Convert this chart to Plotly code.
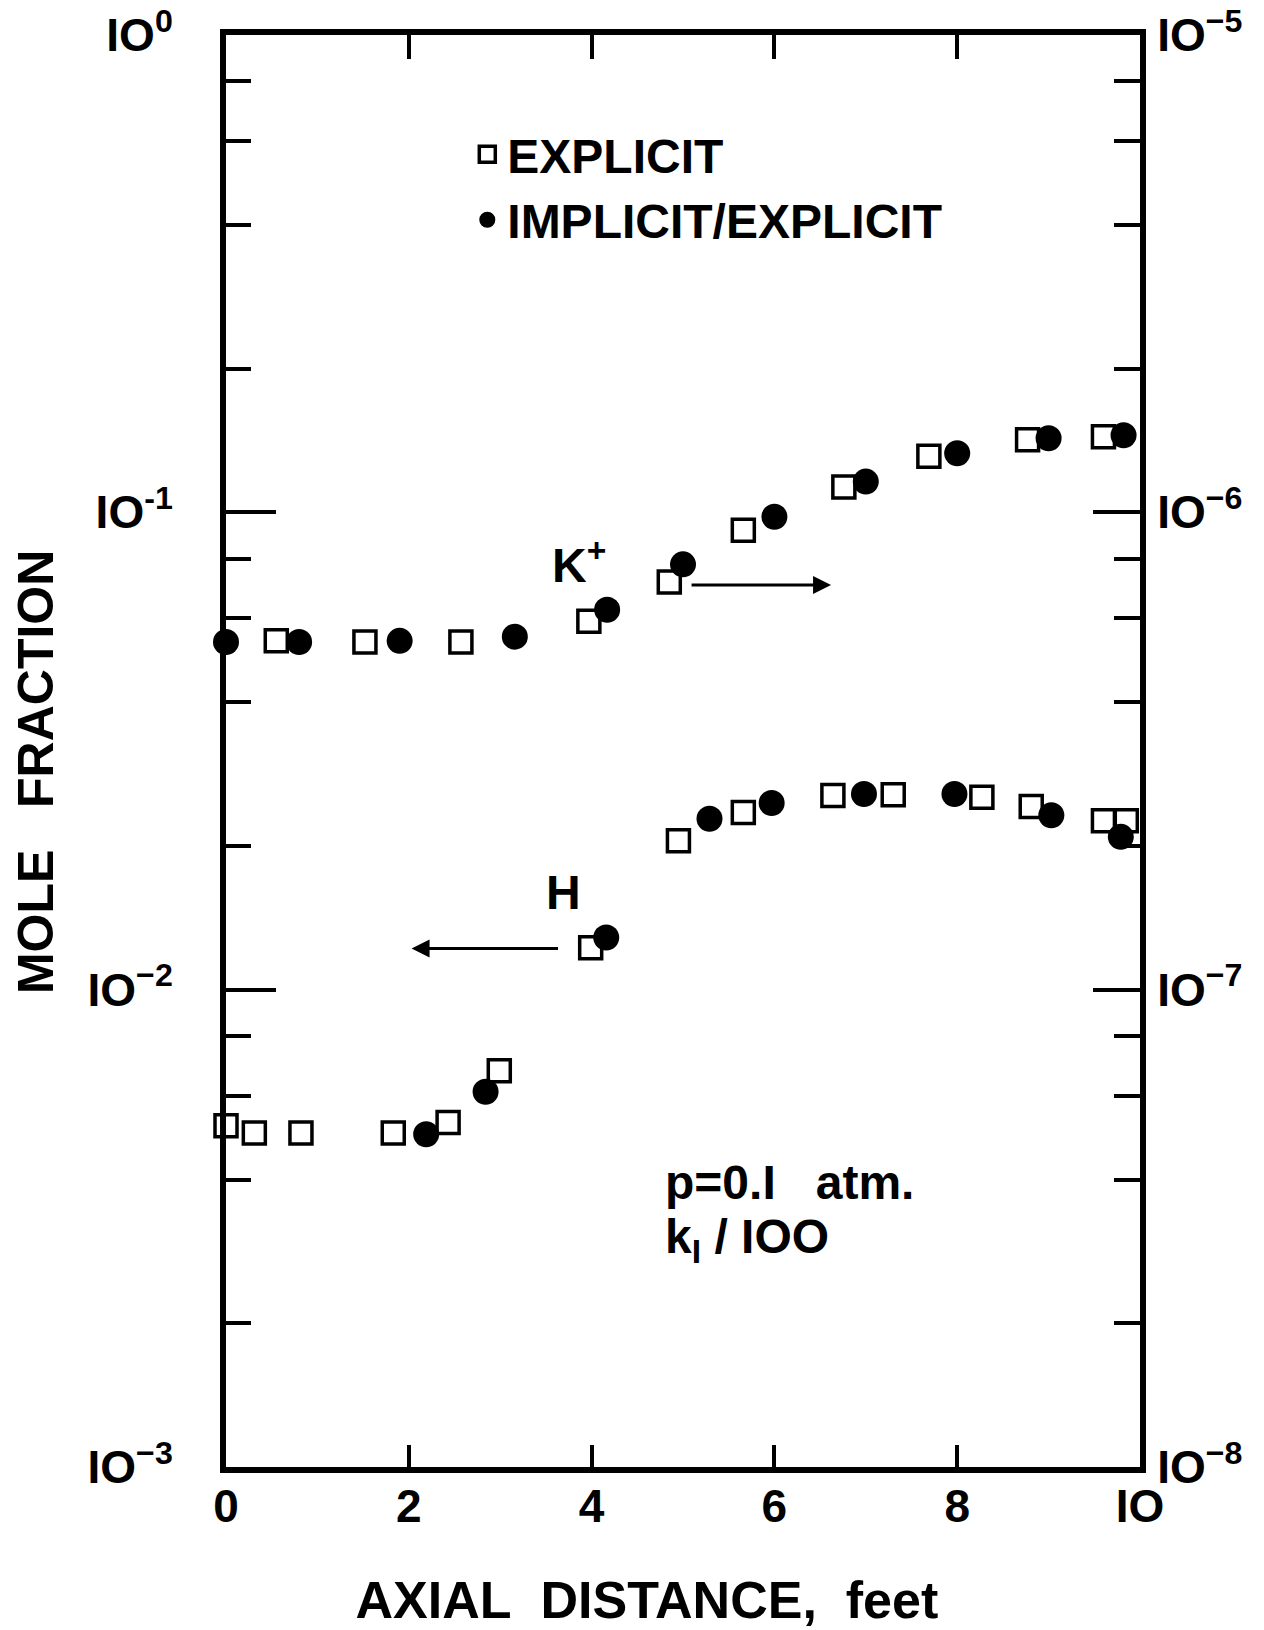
import plotly.graph_objects as go

# ---- data ----
# K+ (right axis, mole fraction)
kp_explicit_x = [0.55, 1.52, 2.57, 3.97, 4.85, 5.66, 6.76, 7.69, 8.77, 9.6]
kp_explicit_y = [5.38e-7, 5.35e-7, 5.35e-7, 5.91e-7, 7.15e-7, 9.17e-7, 1.13e-6, 1.31e-6, 1.42e-6, 1.44e-6]
kp_implicit_x = [0.0, 0.8, 1.9, 3.16, 4.17, 5.0, 6.0, 7.0, 8.0, 9.0, 9.82]
kp_implicit_y = [5.35e-7, 5.35e-7, 5.38e-7, 5.49e-7, 6.25e-7, 7.78e-7, 9.79e-7, 1.16e-6, 1.33e-6, 1.43e-6, 1.45e-6]

# H (left axis, mole fraction)
h_explicit_x = [0.0, 0.31, 0.82, 1.83, 2.43, 2.99, 3.99, 4.95, 5.66, 6.64, 7.3, 8.27, 8.81, 9.6, 9.85]
h_explicit_y = [5.19e-3, 5.01e-3, 5.01e-3, 5.01e-3, 5.27e-3, 6.76e-3, 1.224e-2, 2.05e-2, 2.35e-2,
                2.55e-2, 2.56e-2, 2.53e-2, 2.42e-2, 2.26e-2, 2.26e-2]
h_implicit_x = [2.19, 2.84, 4.16, 5.29, 5.97, 6.98, 7.97, 9.03, 9.79]
h_implicit_y = [4.98e-3, 6.11e-3, 1.286e-2, 2.28e-2, 2.46e-2, 2.57e-2, 2.57e-2, 2.32e-2, 2.09e-2]

x_ticks = [0, 2, 4, 6, 8, 10]
x_ticktext = ["0", "2", "4", "6", "8", "IO"]
left_ticks = [1e-3, 1e-2, 1e-1, 1e0]
left_ticktext = ["IO<sup>−3</sup>", "IO<sup>−2</sup>", "IO<sup>-1</sup>", "IO<sup>0</sup>"]
right_ticks = [1e-8, 1e-7, 1e-6, 1e-5]
right_ticktext = ["IO<sup>−8</sup>", "IO<sup>−7</sup>", "IO<sup>−6</sup>", "IO<sup>−5</sup>"]
minor_mult = [2, 4, 6, 8]

FONT = "Liberation Sans"
NB = "&nbsp;"

sq = dict(symbol="square-open", size=22, color="black", line=dict(width=3.5, color="black"))
ci = dict(symbol="circle", size=26, color="black", line=dict(width=0))

fig = go.Figure()
fig.add_trace(go.Scatter(x=h_explicit_x, y=h_explicit_y, mode="markers", marker=sq,
                         name="EXPLICIT", legendgroup="e", cliponaxis=False, xaxis="x", yaxis="y"))
fig.add_trace(go.Scatter(x=h_implicit_x, y=h_implicit_y, mode="markers", marker=ci,
                         name="IMPLICIT/EXPLICIT", legendgroup="i", cliponaxis=False, xaxis="x", yaxis="y"))
fig.add_trace(go.Scatter(x=kp_explicit_x, y=kp_explicit_y, mode="markers", marker=sq,
                         name="EXPLICIT", legendgroup="e", showlegend=False, cliponaxis=False,
                         xaxis="x2", yaxis="y2"))
fig.add_trace(go.Scatter(x=kp_implicit_x, y=kp_implicit_y, mode="markers", marker=ci,
                         name="IMPLICIT/EXPLICIT", legendgroup="i", showlegend=False, cliponaxis=False,
                         xaxis="x2", yaxis="y2"))

left_minor = [m * 10 ** e for e in (-3, -2, -1) for m in minor_mult]
right_minor = [m * 10 ** e for e in (-8, -7, -6) for m in minor_mult]

axis_common = dict(showgrid=False, zeroline=False, showline=True, linewidth=6, linecolor="black",
                   tickcolor="black")
tickfont = dict(size=46, family=FONT, weight="bold", color="black")

fig.update_layout(
    width=1264, height=1630,
    margin=dict(l=226, r=124, t=35, b=163),
    paper_bgcolor="white", plot_bgcolor="white",
    font=dict(family=FONT, color="black"),
    xaxis=dict(range=[0, 10], tickmode="array", tickvals=x_ticks, ticktext=x_ticktext,
               ticks="inside", ticklen=22, tickwidth=4, tickfont=tickfont, ticklabelstandoff=-6,
               title=dict(text="AXIAL" + NB * 2 + "DISTANCE," + NB * 2 + "feet" + NB * 5,
                          font=dict(size=52, family=FONT, weight="bold"), standoff=52),
               automargin=False, **axis_common),
    xaxis2=dict(range=[0, 10], overlaying="x", side="top", anchor="y2", matches="x",
                tickmode="array", tickvals=[2, 4, 6, 8], ticks="inside", ticklen=24, tickwidth=4,
                showticklabels=False, **axis_common),
    yaxis=dict(type="log", range=[-3, 0], tickmode="array", tickvals=left_ticks, ticktext=left_ticktext,
               ticks="inside", ticklen=50, tickwidth=4, tickfont=tickfont, ticklabelstandoff=38,
               minor=dict(tickmode="array", tickvals=left_minor, ticks="inside", ticklen=25,
                          tickwidth=4, tickcolor="black", showgrid=False),
               title=dict(text="MOLE" + NB * 3 + "FRACTION" + NB * 3,
                          font=dict(size=50, family=FONT, weight="bold"), standoff=20),
               automargin=False, **axis_common),
    yaxis2=dict(type="log", range=[-8, -5], overlaying="y", side="right", anchor="x2",
                tickmode="array", tickvals=right_ticks, ticktext=right_ticktext,
                ticks="inside", ticklen=47, tickwidth=4, tickfont=tickfont, ticklabelstandoff=2,
                minor=dict(tickmode="array", tickvals=right_minor, ticks="inside", ticklen=26,
                           tickwidth=4, tickcolor="black", showgrid=False),
                automargin=False, **axis_common),
    legend=dict(x=0.264, y=0.943, xanchor="left", yanchor="top", bgcolor="rgba(0,0,0,0)",
                font=dict(size=48, family=FONT, weight="bold"), itemsizing="trace", tracegroupgap=0),
    showlegend=True,
)

ann_font = dict(size=48, family=FONT, color="black", weight="bold")
fig.add_annotation(x=0.386, y=0.632, xref="paper", yref="paper", text="K<sup>+</sup>",
                   showarrow=False, font=ann_font)
fig.add_annotation(x=0.662, y=0.616, xref="paper", yref="paper", ax=-141, ay=0, text="",
                   showarrow=True, arrowhead=2, arrowsize=1.2, arrowwidth=3, arrowcolor="black")
fig.add_annotation(x=0.369, y=0.4015, xref="paper", yref="paper", text="H",
                   showarrow=False, font=ann_font)
fig.add_annotation(x=0.203, y=0.362, xref="paper", yref="paper", ax=148, ay=0, text="",
                   showarrow=True, arrowhead=2, arrowsize=1.2, arrowwidth=3, arrowcolor="black")
fig.add_annotation(x=0.478, y=0.179, xref="paper", yref="paper", xanchor="left",
                   text="p=0.I" + NB * 3 + "atm.", showarrow=False,
                   font=dict(size=48, family=FONT, color="black", weight="bold"))
fig.add_annotation(x=0.478, y=0.136, xref="paper", yref="paper", xanchor="left",
                   text="k<sub>I</sub> / IOO", showarrow=False,
                   font=dict(size=48, family=FONT, color="black", weight="bold"))

fig.write_html("out.html")
